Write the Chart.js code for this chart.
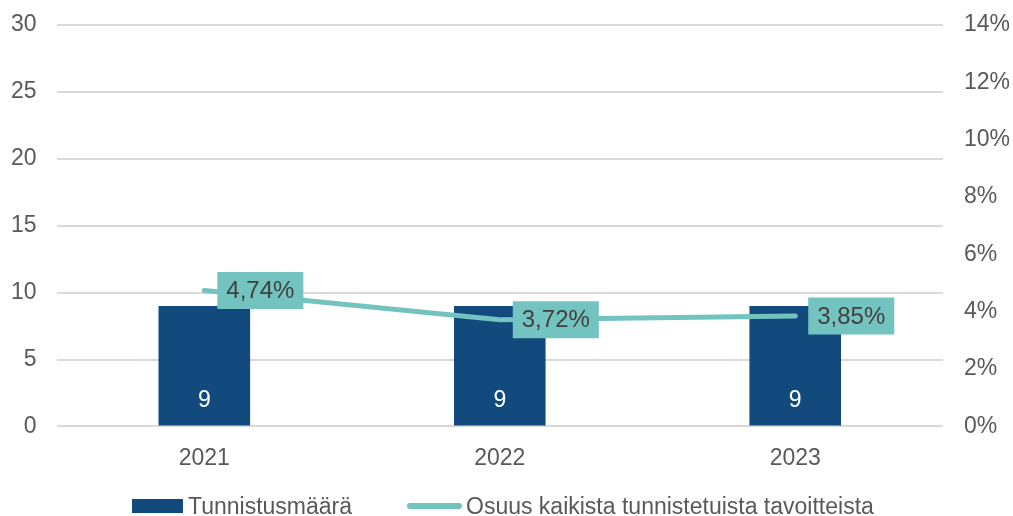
<!DOCTYPE html>
<html>
<head>
<meta charset="utf-8">
<script src="https://cdn.jsdelivr.net/npm/chart.js@4"></script>
<style>
  body { margin: 0; background: #fff; }
  #wrap { position: relative; width: 1013px; height: 516px; }
  .legend { position: absolute; top: 492px; height: 28px; display: flex; align-items: center;
            font: 23px "Liberation Sans", Arial, sans-serif; color: #595959; white-space: nowrap; }
  .legend .box { display: inline-block; width: 51px; height: 14px; margin-right: 5px; }
  .legend .line { display: inline-block; width: 55px; height: 6px; border-radius: 3px; margin-right: 4px; }
</style>
</head>
<body>
<div id="wrap">
  <canvas id="chart"></canvas>
  <div class="legend" style="left:132px"><span class="box" id="lg0"></span><span id="lt0"></span></div>
  <div class="legend" style="left:407px"><span class="line" id="lg1"></span><span id="lt1"></span></div>
</div>
<script>
// data
const years = ['2021', '2022', '2023'];
const counts = [9, 9, 9];
const shares = [4.74, 3.72, 3.85];
const seriesNames = ['Tunnistusmäärä', 'Osuus kaikista tunnistetuista tavoitteista'];

const barColor = '#124A7E';
const lineColor = '#73C4C0';
const textColor = '#595959';

Chart.defaults.font.family = '"Liberation Sans", Arial, sans-serif';
Chart.defaults.color = textColor;

// legend is plain html below the plot
document.querySelector('#lg0').style.background = barColor;
document.querySelector('#lg1').style.background = lineColor;
document.querySelector('#lt0').textContent = seriesNames[0];
document.querySelector('#lt1').textContent = seriesNames[1];

// draws the value labels: inside the bars and in boxes next to the line points
const valueLabels = {
    id: 'valueLabels',
    afterDatasetsDraw(chart) {
        const ctx = chart.ctx;
        ctx.save();
        ctx.textBaseline = 'middle';

        chart.getDatasetMeta(0).data.forEach((bar, i) => {
            ctx.font = '23px "Liberation Sans", Arial';
            ctx.fillStyle = '#ffffff';
            ctx.textAlign = 'center';
            ctx.fillText(String(counts[i]), bar.x, bar.base - 25);
        });

        chart.getDatasetMeta(1).data.forEach((pt, i) => {
            const txt = shares[i].toFixed(2).replace('.', ',') + '%';
            ctx.font = '24px "Liberation Sans", Arial';
            const w = ctx.measureText(txt).width + 18;
            const h = 37;
            const x = pt.x + 13;
            const y = pt.y - h / 2;
            ctx.fillStyle = lineColor;
            ctx.fillRect(x, y, w, h);
            ctx.fillStyle = '#404040';
            ctx.textAlign = 'left';
            ctx.fillText(txt, x + 9, pt.y + 1);
        });
        ctx.restore();
    }
};

// top room for the value axes, so the plot starts where the original does
function trimTop(scale) {
    scale.paddingTop = 25;
}

new Chart(document.querySelector('#chart'), {
    data: {
        labels: years,
        datasets: [
            {
                type: 'bar',
                label: seriesNames[0],
                data: counts,
                backgroundColor: barColor,
                categoryPercentage: 1,
                barPercentage: 0.31,
                yAxisID: 'y',
                order: 2
            },
            {
                type: 'line',
                label: seriesNames[1],
                data: shares,
                borderColor: lineColor,
                backgroundColor: lineColor,
                borderWidth: 5,
                borderCapStyle: 'round',
                pointRadius: 0,
                tension: 0,
                yAxisID: 'y1',
                order: 1
            }
        ]
    },
    options: {
        responsive: true,
        maintainAspectRatio: false,
        animation: false,
        layout: { padding: { top: 0, left: -9, right: -18, bottom: 34 } },
        plugins: {
            tooltip: { enabled: false },
            legend: { display: false }
        },
        scales: {
            x: {
                grid: { display: false },
                border: { display: false },
                ticks: { font: { size: 23 }, color: textColor, padding: 10 }
            },
            y: {
                position: 'left',
                min: 0,
                max: 30,
                afterFit: trimTop,
                ticks: { stepSize: 5, font: { size: 23 }, color: textColor, padding: 20 },
                grid: { color: '#d9d9d9', lineWidth: 2, drawTicks: false },
                border: { display: false }
            },
            y1: {
                position: 'right',
                min: 0,
                max: 14,
                afterFit: trimTop,
                ticks: { stepSize: 2, font: { size: 23 }, color: textColor, padding: 21, callback: v => v + '%' },
                grid: { display: false, drawTicks: false },
                border: { display: false }
            }
        }
    },
    plugins: [valueLabels]
});
</script>
</body>
</html>
